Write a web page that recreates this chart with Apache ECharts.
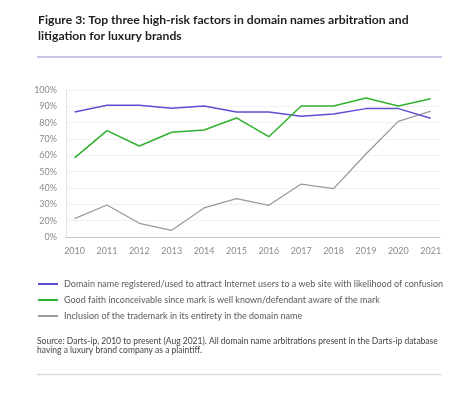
<!DOCTYPE html>
<html>
<head>
<meta charset="utf-8">
<script src="https://cdn.jsdelivr.net/npm/echarts@6/dist/echarts.min.js"></script>
<style>
  html, body { margin: 0; padding: 0; background: #fff; }
  #chart { width: 465px; height: 399px; }
</style>
</head>
<body>
<div id="chart"></div>
<script>
// chart data
const years = [2010, 2011, 2012, 2013, 2014, 2015, 2016, 2017, 2018, 2019, 2020, 2021];
// values in axis units (bottom of the axis is labelled 0%, the 10% label is missing in the original)
const confusionData = [86.5, 90.6, 90.6, 88.8, 90.2, 86.5, 86.5, 83.9, 85.3, 88.6, 88.6, 82.7];
const goodFaithData = [58.4, 75.1, 65.7, 74.1, 75.5, 82.9, 71.4, 90.2, 90.2, 95.1, 90.2, 94.7];
const inclusionData = [21.2, 29.6, 18.4, 14.1, 27.8, 33.5, 29.4, 42.4, 39.6, 60.8, 80.8, 87.0];
const seriesNames = [
  'Domain name registered/used to attract Internet users to a web site with likelihood of confusion',
  'Good faith inconceivable since mark is well known/defendant aware of the mark',
  'Inclusion of the trademark in its entirety in the domain name',
];
const seriesColors = ['#5b4fd3', '#2fb12f', '#9a9a9a'];

const FONT = 'Lato, "Noto Sans", sans-serif';

function pairs(values) {
  return years.map((y, i) => [y, values[i]]);
}

const chart = echarts.init(document.getElementById('chart'));

chart.setOption({
  animation: false,
  textStyle: { fontFamily: FONT },
  title: {
    text: 'Figure 3: Top three high-risk factors in domain names arbitration and\nlitigation for luxury brands',
    left: 38,
    top: 12,
    padding: 0,
    textStyle: {
      fontFamily: FONT,
      fontSize: 12.2,
      fontWeight: 'bold',
      color: '#1e1e1e',
      lineHeight: 16,
    },
  },
  grid: {
    left: 66,
    right: 25,
    top: 90,
    bottom: 162,
  },
  xAxis: {
    type: 'value',
    min: 2009.735,
    max: 2021.287,
    axisLine: { show: true, lineStyle: { color: '#c8c8c8', width: 1 } },
    axisTick: { show: false },
    splitLine: { show: false },
    axisLabel: {
      customValues: years,
      color: '#8a8a8a',
      fontSize: 9,
      margin: 10,
      formatter: (v) => String(Math.round(v)),
    },
  },
  yAxis: {
    type: 'value',
    min: 10,
    max: 100,
    interval: 10,
    axisLine: { show: true, lineStyle: { color: '#e2e2e2', width: 1 } },
    axisTick: { show: false },
    splitLine: { show: true, lineStyle: { color: '#f1f1f1', width: 1 } },
    axisLabel: {
      color: '#8a8a8a',
      fontSize: 9,
      margin: 9,
      formatter: (v) => (v === 10 ? '0%' : v + '%'),
    },
  },
  legend: {
    orient: 'vertical',
    left: 38,
    top: 278,
    padding: 0,
    width: 420,
    icon: 'rect',
    itemWidth: 20,
    itemHeight: 2,
    itemGap: 4,
    data: seriesNames,
    textStyle: {
      fontFamily: FONT,
      fontSize: 9,
      color: '#5a5a5a',
      lineHeight: 12,
      padding: [0, 0, 0, 1],
    },
  },
  graphic: [
    {
      type: 'line',
      shape: { x1: 37, y1: 57, x2: 442, y2: 57 },
      style: { stroke: '#b7b2e2', lineWidth: 1.5 },
    },
    {
      type: 'text',
      left: 37,
      top: 336,
      style: {
        text: 'Source: Darts-ip, 2010 to present (Aug 2021). All domain name arbitrations present in the Darts-ip database\nhaving a luxury brand company as a plaintiff.',
        fontFamily: FONT,
        fontSize: 8.5,
        lineHeight: 9.6,
        fill: '#444',
      },
    },
    {
      type: 'line',
      shape: { x1: 37, y1: 374.5, x2: 442, y2: 374.5 },
      style: { stroke: '#dcdcdc', lineWidth: 1.5 },
    },
  ],
  series: [
    {
      name: seriesNames[0],
      type: 'line',
      data: pairs(confusionData),
      symbol: 'none',
      color: seriesColors[0],
      lineStyle: { width: 1.5, color: seriesColors[0] },
      z: 3,
    },
    {
      name: seriesNames[1],
      type: 'line',
      data: pairs(goodFaithData),
      symbol: 'none',
      color: seriesColors[1],
      lineStyle: { width: 1.5, color: seriesColors[1] },
      z: 4,
    },
    {
      name: seriesNames[2],
      type: 'line',
      data: pairs(inclusionData),
      symbol: 'none',
      color: seriesColors[2],
      lineStyle: { width: 1.3, color: seriesColors[2] },
      z: 2,
    },
  ],
});
</script>
</body>
</html>
